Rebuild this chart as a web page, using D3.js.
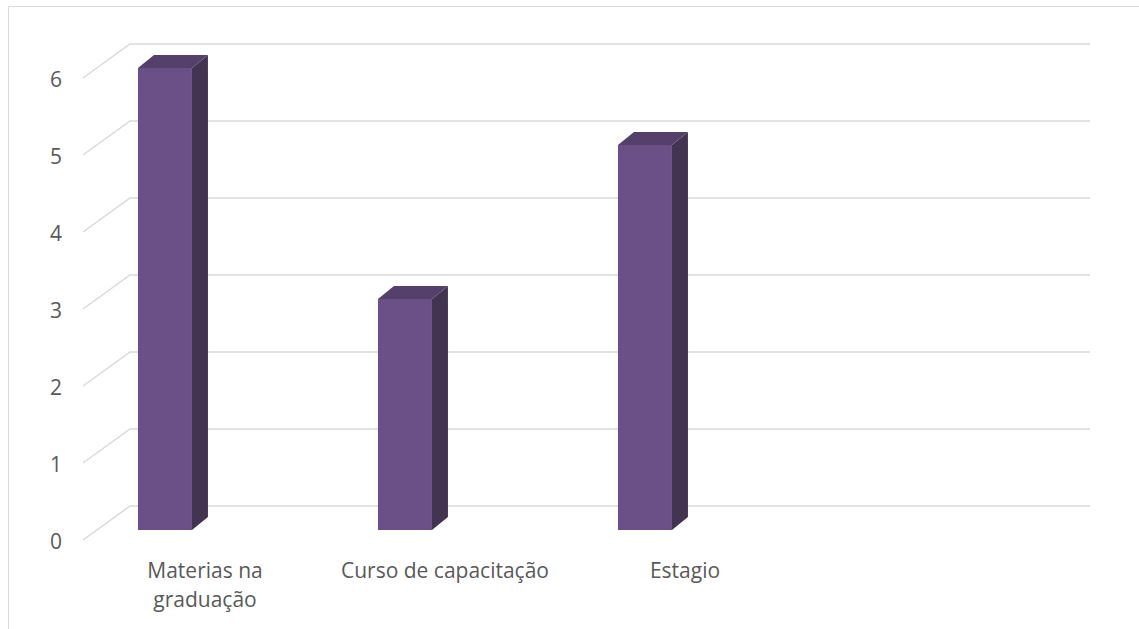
<!DOCTYPE html>
<html>
<head>
<meta charset="utf-8">
<script src="https://cdn.jsdelivr.net/npm/d3@7"></script>
<style>
  body { margin: 0; background: #fff; }
  text { font-family: "Open Sans", "Noto Sans", sans-serif; fill: #595959; }
</style>
</head>
<body>
<div id="chart"></div>
<script>
// data
var categories = [["Materias na", "graduação"], ["Curso de capacitação"], ["Estagio"], [""]];
var values = [6, 3, 5, null];
var yTicks = [0, 1, 2, 3, 4, 5, 6];

var W = 1139, H = 629;

var svg = d3.select("#chart").append("svg")
    .attr("width", W)
    .attr("height", H);

// chart frame
svg.append("path")
    .attr("d", "M8.5,629 V6.5 H1139")
    .attr("fill", "none")
    .attr("stroke", "#d9d9d9")
    .attr("stroke-width", 1);

// front plane scales
var y = d3.scaleLinear().domain([0, 6]).range([540, 78]);
var x = d3.scaleBand().domain(d3.range(categories.length)).range([83, 1043]);

var depth = {dx: 47, dy: -34};   // wall depth
var barDepth = {dx: 16, dy: -13};
var barShift = -10;               // bars sit a bit behind the front plane

// gridlines: floor/side diagonal + back wall line
var grid = svg.append("g").attr("stroke", "#d9d9d9").attr("stroke-width", 1.5).attr("fill", "none");
yTicks.forEach(function(v) {
  var fy = y(v);
  grid.append("path")
      .attr("d", "M" + x.range()[0] + "," + fy +
                 " L" + (x.range()[0] + depth.dx) + "," + (fy + depth.dy) +
                 " H" + (x.range()[1] + depth.dx));
});

// y labels
svg.append("g").selectAll("text")
    .data(yTicks)
  .enter().append("text")
    .attr("x", 62)
    .attr("y", function(d) { return y(d) + 1; })
    .attr("text-anchor", "end")
    .attr("dominant-baseline", "central")
    .style("font-size", "21px")
    .text(function(d) { return d; });

// bars
var bw = x.bandwidth() * 0.225;
var bars = svg.append("g").selectAll("g")
    .data(values.map(function(v, i) { return {v: v, i: i}; }).filter(function(d) { return d.v != null; }))
  .enter().append("g");

bars.each(function(d) {
  var g = d3.select(this);
  var x0 = x(d.i) + x.bandwidth() * 0.229, x1 = x0 + bw;
  var yt = y(d.v) + barShift, yb = y(0) + barShift;
  g.append("path") // side
      .attr("d", "M" + x1 + "," + yt + " L" + (x1 + barDepth.dx) + "," + (yt + barDepth.dy) +
                 " L" + (x1 + barDepth.dx) + "," + (yb + barDepth.dy) + " L" + x1 + "," + yb + "Z")
      .attr("fill", "#433452");
  g.append("path") // top
      .attr("d", "M" + x0 + "," + yt + " L" + (x0 + barDepth.dx) + "," + (yt + barDepth.dy) +
                 " L" + (x1 + barDepth.dx) + "," + (yt + barDepth.dy) + " L" + x1 + "," + yt + "Z")
      .attr("fill", "#54406b");
  g.append("rect") // front
      .attr("x", x0)
      .attr("y", yt)
      .attr("width", bw)
      .attr("height", yb - yt)
      .attr("fill", "#6a5086");
});

// category labels
var lab = svg.append("g").selectAll("text")
    .data(categories)
  .enter().append("text")
    .attr("x", function(d, i) { return x(i) + x.bandwidth() / 2 + 2; })
    .attr("y", 578)
    .attr("text-anchor", "middle")
    .style("font-size", "21px");

lab.selectAll("tspan")
    .data(function(d) { return d; })
  .enter().append("tspan")
    .attr("x", function() { return d3.select(this.parentNode).attr("x"); })
    .attr("dy", function(d, i) { return i ? 29 : 0; })
    .text(function(d) { return d; });
</script>
</body>
</html>
